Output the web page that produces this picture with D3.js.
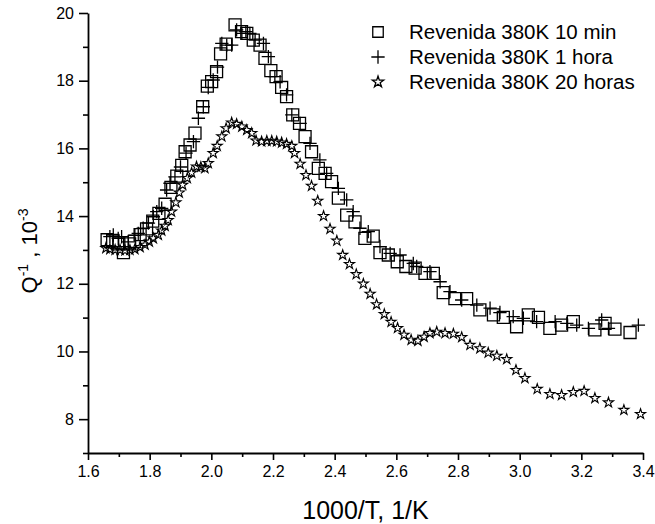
<!DOCTYPE html>
<html>
<head>
<meta charset="utf-8">
<script src="https://cdn.jsdelivr.net/npm/d3@7"></script>
<style>
  body { margin: 0; background: #fff; }
  svg { display: block; }
  text { font-family: "Liberation Sans", Arial, sans-serif; fill: #000; }
</style>
</head>
<body>
<svg id="chart" width="655" height="524"></svg>
<script>
// Internal friction Q^-1 (x10^-3) versus 1000/T for three tempering times
const seriesNames = ["Revenida 380K 10 min", "Revenida 380K 1 hora", "Revenida 380K 20 horas"];

const x10min = [1.662,1.680,1.700,1.715,1.735,1.750,1.769,1.790,1.810,1.830,1.850,1.869,1.888,1.904,1.915,1.931,1.947,1.972,1.987,2.001,2.017,2.030,2.048,2.077,2.098,2.115,2.136,2.158,2.174,2.193,2.210,2.228,2.244,2.264,2.286,2.304,2.325,2.347,2.369,2.390,2.412,2.439,2.466,2.498,2.525,2.547,2.574,2.603,2.631,2.661,2.693,2.720,2.752,2.790,2.828,2.871,2.915,2.947,2.990,3.028,3.061,3.098,3.136,3.174,3.244,3.277,3.309,3.358];
const y10min = [13.30,13.28,13.18,12.92,13.18,13.25,13.45,13.62,13.85,14.08,14.35,14.85,15.18,15.50,15.90,16.10,16.45,17.23,17.84,17.97,18.27,18.79,19.08,19.65,19.45,19.40,19.20,19.05,18.66,18.30,18.12,17.80,17.53,16.99,16.74,16.35,15.90,15.41,15.26,15.02,14.53,14.03,13.83,13.34,13.41,12.92,12.85,12.65,12.51,12.46,12.31,12.31,11.74,11.56,11.56,11.23,11.08,11.01,10.73,11.08,11.01,10.68,10.78,10.88,10.64,10.83,10.66,10.56];

const x1hora = [1.671,1.682,1.698,1.709,1.731,1.752,1.763,1.779,1.796,1.812,1.823,1.839,1.855,1.866,1.882,1.900,1.918,1.942,1.958,1.974,1.990,2.006,2.020,2.034,2.050,2.066,2.082,2.099,2.112,2.125,2.142,2.169,2.185,2.206,2.223,2.244,2.261,2.288,2.320,2.352,2.374,2.412,2.439,2.460,2.482,2.509,2.547,2.580,2.612,2.655,2.666,2.709,2.742,2.774,2.812,2.861,2.904,2.936,2.979,3.012,3.055,3.115,3.153,3.185,3.223,3.266,3.288,3.385];
const y1hora = [13.39,13.44,13.34,13.39,13.24,13.44,13.49,13.64,13.79,13.98,14.13,14.23,14.77,14.97,15.16,15.45,15.86,16.20,16.89,17.23,17.80,18.02,18.40,19.10,19.05,19.05,19.50,19.40,19.45,19.40,19.20,19.10,18.71,18.12,17.97,17.58,16.99,16.74,16.15,15.66,15.26,14.82,14.48,14.13,13.64,13.54,13.10,12.90,12.85,12.60,12.51,12.36,12.06,11.77,11.52,11.37,11.28,11.15,11.03,10.98,10.88,10.88,10.83,10.78,10.68,10.93,10.68,10.78];

const x20horas = [1.658,1.671,1.688,1.704,1.720,1.736,1.752,1.769,1.785,1.799,1.812,1.828,1.839,1.850,1.860,1.871,1.885,1.896,1.907,1.922,1.936,1.952,1.966,1.979,1.990,2.006,2.019,2.034,2.048,2.066,2.082,2.099,2.115,2.131,2.145,2.163,2.180,2.196,2.212,2.228,2.244,2.261,2.270,2.288,2.307,2.325,2.345,2.364,2.385,2.407,2.426,2.448,2.470,2.493,2.515,2.536,2.561,2.583,2.604,2.625,2.648,2.670,2.690,2.709,2.731,2.758,2.785,2.812,2.839,2.871,2.898,2.926,2.958,2.988,3.017,3.057,3.098,3.136,3.174,3.209,3.244,3.288,3.338,3.392];
const y20horas = [13.05,13.02,13.00,13.00,12.98,13.00,13.02,13.08,13.15,13.24,13.34,13.44,13.57,13.71,13.88,14.13,14.40,14.69,14.92,15.12,15.28,15.46,15.45,15.41,15.56,15.86,16.07,16.35,16.59,16.76,16.72,16.64,16.54,16.45,16.23,16.20,16.22,16.22,16.20,16.17,16.13,16.07,15.86,15.54,15.21,14.89,14.45,14.00,13.62,13.27,12.85,12.58,12.28,12.00,11.70,11.39,11.10,10.87,10.69,10.49,10.34,10.31,10.43,10.54,10.58,10.54,10.52,10.42,10.19,10.09,9.96,9.87,9.77,9.45,9.21,8.89,8.74,8.71,8.80,8.83,8.62,8.49,8.27,8.15];

const xTicks = [1.6,1.8,2.0,2.2,2.4,2.6,2.8,3.0,3.2,3.4];
const xMinorTicks = [1.7,1.9,2.1,2.3,2.5,2.7,2.9,3.1,3.3];
const yTicks = [8,10,12,14,16,18,20];
const yMinorTicks = [7,9,11,13,15,17,19];

const svg = d3.select("#chart");
const plot = { left: 88, right: 643, top: 13, bottom: 453 };

const x = d3.scaleLinear().domain([1.6, 3.4]).range([plot.left, plot.right]);
const y = d3.scaleLinear().domain([7, 20]).range([plot.bottom, plot.top]);

// minor ticks (no labels)
svg.append("g")
  .attr("transform", `translate(0,${plot.bottom})`)
  .call(d3.axisBottom(x).tickValues(xMinorTicks).tickSize(4).tickFormat(""))
  .call(g => g.select(".domain").remove())
  .call(g => g.selectAll("line").attr("stroke", "#000").attr("stroke-width", 1.6));
svg.append("g")
  .attr("transform", `translate(${plot.left},0)`)
  .call(d3.axisLeft(y).tickValues(yMinorTicks).tickSize(5).tickFormat(""))
  .call(g => g.select(".domain").remove())
  .call(g => g.selectAll("line").attr("stroke", "#000").attr("stroke-width", 1.6));

// major axes
const xAxis = svg.append("g")
  .attr("transform", `translate(0,${plot.bottom})`)
  .call(d3.axisBottom(x).tickValues(xTicks).tickSize(7).tickSizeOuter(0).tickPadding(6).tickFormat(d3.format(".1f")));
const yAxis = svg.append("g")
  .attr("transform", `translate(${plot.left},0)`)
  .call(d3.axisLeft(y).tickValues(yTicks).tickSize(9).tickSizeOuter(0).tickPadding(5).tickFormat(d3.format("d")));

[xAxis, yAxis].forEach(g => {
  g.select(".domain").attr("stroke", "#000").attr("stroke-width", 1.8);
  g.selectAll(".tick line").attr("stroke", "#000").attr("stroke-width", 1.6);
  g.selectAll(".tick text")
    .style("font-family", '"Liberation Sans", Arial, sans-serif')
    .style("font-size", "16px")
    .attr("fill", "#000");
});

// axis titles
svg.append("text")
  .attr("x", (plot.left + plot.right) / 2)
  .attr("y", 519)
  .attr("text-anchor", "middle")
  .style("font-size", "25px")
  .text("1000/T, 1/K");

const yTitle = svg.append("text")
  .attr("transform", "translate(37,251) rotate(-90)")
  .attr("text-anchor", "middle")
  .style("font-size", "22px");
yTitle.append("tspan").text("Q");
yTitle.append("tspan").attr("dy", -9).style("font-size", "14px").text("-1");
yTitle.append("tspan").attr("dy", 9).text(" , 10");
yTitle.append("tspan").attr("dy", -9).style("font-size", "14px").text("-3");

// markers
const sqSym = d3.symbol().type(d3.symbolSquare).size(144);
const plusSym = d3.symbol().type(d3.symbolPlus).size(60);
const starSym = d3.symbol().type(d3.symbolStar).size(32);

const series = [
  { xs: x20horas, ys: y20horas, sym: starSym, sw: 1.1 },
  { xs: x10min, ys: y10min, sym: sqSym, sw: 1.3 },
  { xs: x1hora, ys: y1hora, sym: plusSym, sw: 1.3 }
];

series.forEach(s => {
  svg.append("g")
    .selectAll("path")
    .data(d3.zip(s.xs, s.ys))
    .join("path")
    .attr("transform", d => `translate(${x(d[0])},${y(d[1])})`)
    .attr("d", s.sym())
    .attr("fill", "none")
    .attr("stroke", "#000")
    .attr("stroke-width", s.sw);
});

// legend
const legendSyms = [
  d3.symbol().type(d3.symbolSquare).size(110),
  d3.symbol().type(d3.symbolPlus).size(60),
  d3.symbol().type(d3.symbolStar).size(40)
];
const legend = svg.append("g");
seriesNames.forEach((name, i) => {
  const cy = 32 + i * 25;
  legend.append("path")
    .attr("transform", `translate(378,${cy})`)
    .attr("d", legendSyms[i]())
    .attr("fill", "none")
    .attr("stroke", "#000")
    .attr("stroke-width", 1.3);
  legend.append("text")
    .attr("x", 409)
    .attr("y", cy)
    .attr("dy", "0.36em")
    .style("font-size", "20.5px")
    .text(name);
});
</script>
</body>
</html>
